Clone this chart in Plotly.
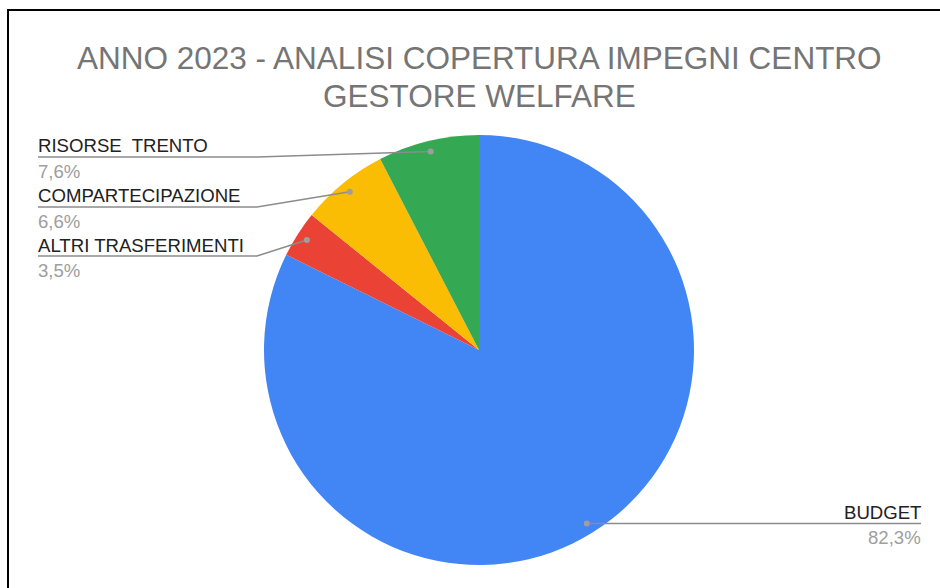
import math
import plotly.graph_objects as go

# data
labels = ["BUDGET", "ALTRI TRASFERIMENTI", "COMPARTECIPAZIONE", "RISORSE  TRENTO"]
values = [82.3, 3.5, 6.6, 7.6]
pct_text = ["82,3%", "3,5%", "6,6%", "7,6%"]
colors = ["#4285F4", "#EA4335", "#FBBC04", "#34A853"]
title_lines = ["ANNO 2023 - ANALISI COPERTURA IMPEGNI CENTRO", "GESTORE WELFARE"]

W, H = 940, 588
CX, CY, R = 479, 350, 215  # pie centre / radius in px


def px(x):
    return x / W


def py(y):
    return 1 - y / H


fig = go.Figure(go.Pie(
    labels=labels,
    values=values,
    marker=dict(colors=colors, line=dict(width=0)),
    sort=False,
    direction="clockwise",
    rotation=0,
    textinfo="none",
    hoverinfo="label+percent",
    showlegend=False,
    domain=dict(x=[px(CX - R), px(CX + R)], y=[py(CY + R), py(CY - R)]),
))

shapes = []
annotations = []

# frame
shapes.append(dict(type="rect", xref="paper", yref="paper",
                   x0=px(8), y0=-0.2, x1=1.2, y1=py(10),
                   line=dict(color="black", width=2)))

line_col = "#8c8c8c"
lab_size = 18.6
left_rows = [157, 207, 256]  # y of the label rows on the left (top to bottom)
left_order = [3, 2, 1]  # slices drawn on the left, top to bottom
total = sum(values)
cum = 0
dots = []
for v in values:
    mid = (cum + v / 2) / total * 2 * math.pi
    cum += v
    dots.append((CX + 0.95 * R * math.sin(mid), CY - 0.95 * R * math.cos(mid)))

for row_y, i in zip(left_rows, left_order):
    dx, dy = dots[i]
    shapes.append(dict(type="path", xref="paper", yref="paper",
                       path=f"M {px(dx)} {py(dy)} L {px(257)} {py(row_y)} L {px(38)} {py(row_y)}",
                       line=dict(color=line_col, width=1.5)))
    annotations.append(dict(x=px(36), y=py(row_y - 11), text=labels[i], xanchor="left", yanchor="middle",
                            font=dict(size=lab_size, color="#212121")))
    annotations.append(dict(x=px(36), y=py(row_y + 14), text=pct_text[i], xanchor="left", yanchor="middle",
                            font=dict(size=lab_size, color="#9e9e9e")))

# right side label (BUDGET)
dx, dy = dots[0]
shapes.append(dict(type="line", xref="paper", yref="paper",
                   x0=px(dx), y0=py(dy), x1=px(921), y1=py(dy),
                   line=dict(color=line_col, width=1.5)))
annotations.append(dict(x=px(923), y=py(dy - 11), text=labels[0], xanchor="right", yanchor="middle",
                        font=dict(size=lab_size, color="#212121")))
annotations.append(dict(x=px(923), y=py(dy + 14), text=pct_text[0], xanchor="right", yanchor="middle",
                        font=dict(size=lab_size, color="#9e9e9e")))

for dx, dy in dots:
    shapes.append(dict(type="circle", xref="paper", yref="paper",
                       x0=px(dx - 3), y0=py(dy + 3), x1=px(dx + 3), y1=py(dy - 3),
                       fillcolor="#9e9e9e", line=dict(width=0)))

# title, two lines
for t, ty in zip(title_lines, [58, 96]):
    annotations.append(dict(x=px(480), y=py(ty), xanchor="center", yanchor="middle", text=t,
                            font=dict(size=31.5, color="#757575")))

for a in annotations:
    a.update(xref="paper", yref="paper", showarrow=False)

fig.update_layout(
    width=W, height=H,
    margin=dict(l=0, r=0, t=0, b=0),
    paper_bgcolor="white",
    font=dict(family="Liberation Sans, Arial, sans-serif"),
    shapes=shapes,
    annotations=annotations,
)

fig.write_html("out.html", config={"displayModeBar": False},
               post_script="document.body.style.margin='0';")
